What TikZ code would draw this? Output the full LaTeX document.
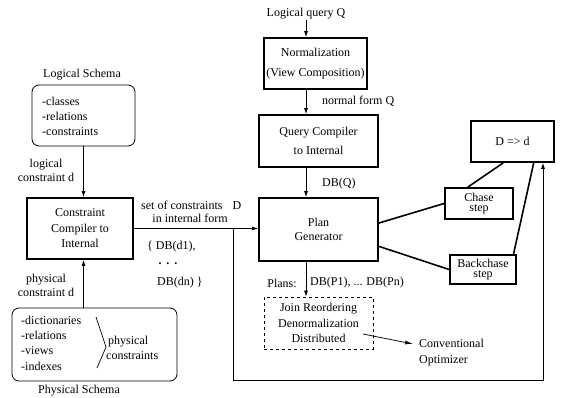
\documentclass[tikz,border=0pt]{standalone}
\usepackage{fontspec}
\setmainfont{Liberation Serif}
\usetikzlibrary{arrows.meta,calc}
\begin{document}
\begin{tikzpicture}[x=1pt,y=-1pt,
  every node/.style={font=\fontsize{12}{14}\selectfont, inner sep=0pt},
  bigbox/.style={draw, line width=1.8pt, align=center},
  schema/.style={draw, line width=0.8pt, rounded corners=7pt},
  conn/.style={line width=0.7pt, -{Latex[length=6pt,width=4pt]}},
  link/.style={line width=1.6pt},
  lbl/.style={align=center},
  lst/.style={align=left, font=\fontsize{12}{15}\selectfont},
]
\path[use as bounding box] (0,0) rectangle (561,398);

% main column
\node (lq) at (306,14) {Logical query Q};
\node[bigbox, minimum width=103, minimum height=51, font=\fontsize{12}{20}\selectfont] (norm) at (315.5,63.5) {Normalization\\(View Composition)};
\node[bigbox, minimum width=119, minimum height=52, font=\fontsize{12}{19}\selectfont] (qc) at (318.5,141) {Query Compiler\\to Internal};
\node[bigbox, minimum width=119, minimum height=63, font=\fontsize{12}{14}\selectfont] (pg) at (318.5,229.5) {Plan\\Generator};
\node[draw, dashed, line width=0.8pt, align=center, minimum width=109, minimum height=52, font=\fontsize{12}{15.5}\selectfont] (dash) at (318.5,323) {Join Reordering\\Denormalization\\Distributed};

\node[anchor=west] (nf) at (322,101) {normal form Q};
\node[anchor=west] (dbq) at (322,184) {DB(Q)};
\node (plans) at (282,283) {Plans:};
\node (dbp) at (357,283) {DB(P1), ... DB(Pn)};
\node[align=left, anchor=west, font=\fontsize{12}{16}\selectfont] (conv) at (419,353) {Conventional\\Optimizer};

% right part
\node[bigbox, minimum width=83, minimum height=41] (dd) at (512.5,141.5) {D =\textgreater{} d};
\node[bigbox, minimum width=68, minimum height=31, font=\fontsize{12}{10.5}\selectfont] (chase) at (479,203.5) {Chase\\step};
\node[bigbox, minimum width=66, minimum height=29, font=\fontsize{12}{10.5}\selectfont] (back) at (483,269.5) {Backchase\\step};

% left part
\node (lsl) at (82,75) {Logical Schema};
\node[schema, minimum width=103, minimum height=61] (ls) at (83.5,115.5) {};
\node[lst, anchor=west] (lstxt) at (42,116.5) {-classes\\-relations\\-constraints};
\node[lbl] (lcd) at (46,170.5) {logical\\constraint d};
\node[bigbox, minimum width=106, minimum height=61, font=\fontsize{12}{15.5}\selectfont] (cc) at (80,228.5) {Constraint\\Compiler to\\Internal};
\node[lbl] (pcd) at (46,285.5) {physical\\constraint d};
\node[schema, minimum width=165, minimum height=73] (ps) at (94.5,344.5) {};
\node[lst, anchor=west, font=\fontsize{12}{15.3}\selectfont] (pstxt) at (21,343) {-dictionaries\\-relations\\-views\\-indexes};
\node[align=left, anchor=west, font=\fontsize{12}{15}\selectfont] (pc) at (106,347.5) {\hspace{2pt}physical\\constraints};
\node (psl) at (79,391) {Physical Schema};

\node[anchor=west] (soc) at (141,205) {set of constraints\hspace{10pt}D};
\node[anchor=east] (iif) at (228,218.5) {in internal form};
\node[anchor=west] (db1) at (147,246.5) {\{ DB(d1),};
\node (dots) at (168,264) {\textbf{.\hspace{5pt}.\hspace{5pt}.}};
\node[anchor=west] (dbn) at (157,283) {DB(dn) \}};

% coordinates
\coordinate (j) at (233,228.5);
\coordinate (fb) at (543,380);
\coordinate (co) at (363,334);
\coordinate (coend) at (413,344);
\coordinate (b1) at (96,317);
\coordinate (b2) at (106,347);
\coordinate (b3) at (97,368);

% connectors
\draw[conn] (lq.south) -- (norm.north -| lq.south);
\draw[conn] (norm.south -| lq.south) -- (qc.north -| lq.south);
\draw[conn] (qc.south -| lq.south) -- (pg.north -| lq.south);
\draw[conn] (pg.south -| lq.south) -- (dash.north -| lq.south);
\draw[conn] (ls.south) -- (ls.south |- cc.north);
\draw[conn] (ls.south |- ps.north) -- (ls.south |- cc.south);
\draw[conn] (cc.east) -- (cc.east -| pg.west);
\draw[conn] (j) |- (fb) -- (fb |- dd.south);
\draw[line width=0.7pt, -{Latex[length=8pt,width=4pt]}] (co) -- (coend);
\draw[line width=0.7pt] (b1) -- (b2) -- (b3);

\draw[link] ($(pg.north east)!0.4!(pg.south east)$) -- (chase.west);
\draw[link] ($(pg.north east)!0.76!(pg.south east)$) -- (back.west);
\draw[link] ($(dd.south west)!0.39!(dd.south east)$) -- ($(chase.north west)!0.34!(chase.north east)$);
\draw[link] ($(dd.south west)!0.75!(dd.south east)$) -- ($(back.north west)!0.95!(back.north east)$);
\end{tikzpicture}
\end{document}
